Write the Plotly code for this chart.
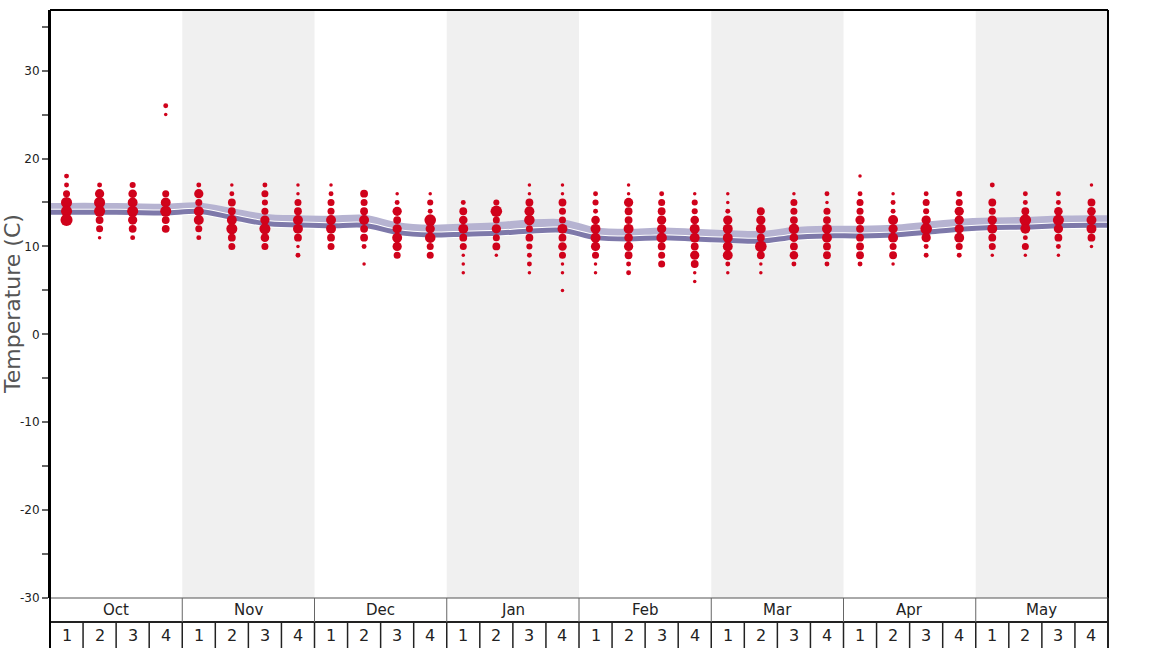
import math
import plotly.graph_objects as go

months = ["Oct", "Nov", "Dec", "Jan", "Feb", "Mar", "Apr", "May"]
week_labels = ["1", "2", "3", "4"]

# temperature (C) -> relative frequency, one dict per week
oct_weeks = [
    {18: 2, 17: 2, 16: 4, 15: 10, 14: 10, 13: 12},
    {17: 2, 16: 7, 15: 10, 14: 10, 13: 5, 12: 4, 11: 1},
    {17: 3, 16: 6, 15: 8, 14: 10, 13: 7, 12: 5, 11: 2},
    {26: 2, 25: 1, 16: 4, 15: 8, 14: 10, 13: 5, 12: 5},
]
nov_weeks = [
    {17: 2, 16: 7, 15: 4, 14: 8, 13: 8, 12: 4, 11: 2},
    {17: 1, 16: 2, 15: 5, 14: 5, 13: 8, 12: 10, 11: 5, 10: 4},
    {17: 2, 16: 4, 15: 3, 14: 4, 13: 7, 12: 10, 11: 6, 10: 4},
    {17: 1, 16: 1, 15: 4, 14: 5, 13: 8, 12: 8, 11: 5, 10: 1, 9: 2},
]
dec_weeks = [
    {17: 1, 16: 2, 15: 4, 14: 4, 13: 8, 12: 8, 11: 5, 10: 4},
    {16: 5, 15: 4, 14: 5, 13: 8, 12: 5, 11: 5, 10: 2, 8: 1},
    {16: 1, 15: 2, 14: 7, 13: 5, 12: 7, 11: 8, 10: 7, 9: 4},
    {16: 1, 15: 3, 14: 2, 13: 11, 12: 7, 11: 9, 10: 4, 9: 4},
]
jan_weeks = [
    {15: 2, 14: 5, 13: 6, 12: 8, 11: 5, 10: 4, 9: 1, 8: 1, 7: 1},
    {15: 3, 14: 11, 13: 4, 12: 7, 11: 4, 10: 5, 9: 1},
    {17: 1, 16: 1, 15: 5, 14: 8, 13: 9, 12: 4, 11: 5, 10: 3, 9: 2, 8: 2, 7: 1},
    {17: 1, 16: 1, 15: 5, 14: 4, 13: 4, 12: 8, 11: 5, 10: 6, 9: 4, 8: 1, 7: 1, 5: 1},
]
feb_weeks = [
    {16: 2, 15: 3, 14: 2, 13: 6, 12: 8, 11: 8, 10: 7, 9: 4, 8: 1, 7: 1},
    {17: 1, 16: 1, 15: 7, 14: 5, 13: 5, 12: 8, 11: 6, 10: 7, 9: 5, 8: 2, 7: 2},
    {16: 2, 15: 4, 14: 5, 13: 7, 12: 7, 11: 9, 10: 5, 9: 4, 8: 4},
    {16: 1, 15: 3, 14: 3, 13: 6, 12: 8, 11: 8, 10: 5, 9: 7, 8: 5, 7: 1, 6: 1},
]
mar_weeks = [
    {16: 1, 15: 1, 14: 2, 13: 7, 12: 8, 11: 8, 10: 8, 9: 8, 8: 2, 7: 1},
    {14: 5, 13: 7, 12: 8, 11: 5, 10: 11, 9: 5, 8: 1, 7: 1},
    {16: 1, 15: 4, 14: 4, 13: 5, 12: 9, 11: 6, 10: 5, 9: 6, 8: 2},
    {16: 2, 15: 1, 14: 4, 13: 5, 12: 8, 11: 8, 10: 5, 9: 5, 8: 2},
]
apr_weeks = [
    {18: 1, 16: 2, 15: 4, 14: 4, 13: 7, 12: 5, 11: 5, 10: 5, 9: 5, 8: 2},
    {16: 1, 15: 2, 14: 2, 13: 8, 12: 7, 11: 8, 10: 4, 9: 5, 8: 1},
    {16: 2, 15: 4, 14: 3, 13: 7, 12: 11, 11: 7, 10: 2, 9: 2},
    {16: 3, 15: 4, 14: 7, 13: 7, 12: 7, 11: 8, 10: 4, 9: 2},
]
may_weeks = [
    {17: 2, 15: 5, 14: 4, 13: 7, 12: 8, 11: 5, 10: 4, 9: 1},
    {16: 2, 15: 2, 14: 5, 13: 11, 12: 8, 11: 2, 10: 4, 9: 1},
    {16: 2, 15: 2, 14: 6, 13: 10, 12: 7, 11: 5, 10: 2, 9: 1},
    {17: 1, 15: 5, 14: 6, 13: 8, 12: 8, 11: 5, 10: 1},
]

# weekly lines
line_low = [13.9, 13.9, 13.85, 13.8, 14.0, 13.3, 12.6, 12.45,
            12.35, 12.4, 11.6, 11.3, 11.4, 11.5, 11.75, 11.85,
            11.0, 10.85, 11.0, 10.85, 10.7, 10.6, 11.05, 11.2,
            11.2, 11.3, 11.6, 11.95, 12.15, 12.2, 12.35, 12.4]
line_high = [14.5, 14.5, 14.45, 14.4, 14.55, 13.9, 13.25, 13.1,
             13.05, 13.15, 12.3, 12.0, 12.15, 12.3, 12.6, 12.65,
             11.7, 11.55, 11.7, 11.55, 11.4, 11.3, 11.75, 11.9,
             11.9, 12.0, 12.35, 12.7, 12.85, 12.9, 13.05, 13.1]

all_weeks = oct_weeks + nov_weeks + dec_weeks + jan_weeks + feb_weeks + mar_weeks + apr_weeks + may_weeks
n = len(all_weeks)
nm = len(months)

xs, ys, ss = [], [], []
for i, wk in enumerate(all_weeks):
    for t, c in wk.items():
        xs.append(i)
        ys.append(t)
        ss.append(3.5 * math.sqrt(c))

PLOT_H = 588.0

fig = go.Figure()

shapes = []
for m in range(nm):
    if m % 2 == 1:
        shapes.append(dict(type="rect", xref="paper", yref="paper", x0=m / nm, x1=(m + 1) / nm,
                           y0=0, y1=1, fillcolor="#f0f0f0", line=dict(width=0), layer="below"))

lx = [-0.5] + list(range(n)) + [n - 0.5]
hi = [line_high[0]] + line_high + [line_high[-1]]
lo = [line_low[0]] + line_low + [line_low[-1]]

fig.add_trace(go.Scatter(x=lx, y=hi, mode="lines", line=dict(color="#b6b3d1", width=8, shape="spline", smoothing=0.8),
                         hoverinfo="skip", showlegend=False))
fig.add_trace(go.Scatter(x=lx, y=lo, mode="lines", line=dict(color="#ffffff", width=7, shape="spline", smoothing=0.8),
                         hoverinfo="skip", showlegend=False))
fig.add_trace(go.Scatter(x=lx, y=lo, mode="lines", line=dict(color="#7e79aa", width=5, shape="spline", smoothing=0.8),
                         hoverinfo="skip", showlegend=False))
fig.add_trace(go.Scatter(x=xs, y=ys, mode="markers",
                         marker=dict(color="#d0021b", size=ss, sizemode="diameter", opacity=1, line=dict(width=0)),
                         showlegend=False))

# frame
shapes.append(dict(type="line", xref="paper", yref="paper", x0=0, x1=1, y0=1, y1=1, line=dict(color="black", width=2)))
shapes.append(dict(type="line", xref="paper", yref="paper", x0=1, x1=1, y0=0, y1=1, line=dict(color="black", width=2)))

row_h = 24 / PLOT_H
shapes.append(dict(type="line", xref="paper", yref="paper", x0=0, x1=1, y0=0, y1=0, line=dict(color="#555", width=1)))
shapes.append(dict(type="line", xref="paper", yref="paper", x0=0, x1=1, y0=-row_h, y1=-row_h, line=dict(color="#222", width=2)))
shapes.append(dict(type="line", xref="paper", yref="paper", x0=0, x1=0, y0=-0.12, y1=1, line=dict(color="black", width=2)))
shapes.append(dict(type="line", xref="paper", yref="paper", x0=1, x1=1, y0=-0.12, y1=0, line=dict(color="#222", width=2)))
annotations = []
for m in range(nm):
    if m > 0:
        shapes.append(dict(type="line", xref="paper", yref="paper", x0=m / nm, x1=m / nm, y0=-row_h, y1=0,
                           line=dict(color="#666", width=1)))
    annotations.append(dict(x=(m + 0.5) / nm, y=-row_h / 2, xref="paper", yref="paper", text=months[m],
                            showarrow=False, font=dict(size=15, color="#222", family="DejaVu Sans"),
                            xanchor="center", yanchor="middle"))
for i in range(n):
    if i > 0:
        shapes.append(dict(type="line", xref="paper", yref="paper", x0=i / n, x1=i / n, y0=-0.12, y1=-row_h,
                           line=dict(color="#222", width=1.5)))
    annotations.append(dict(x=(i + 0.5) / n, y=-row_h - 13.5 / PLOT_H, xref="paper", yref="paper",
                            text=week_labels[i % 4], showarrow=False,
                            font=dict(size=16, color="#222", family="DejaVu Sans"),
                            xanchor="center", yanchor="middle"))

annotations.append(dict(x=0, y=0.5, xref="paper", yref="paper", xshift=-38, text="Temperature (C)",
                        textangle=-90, showarrow=False, font=dict(size=22, color="#555", family="DejaVu Sans"),
                        xanchor="center", yanchor="middle"))

fig.update_layout(
    width=1168, height=648,
    margin=dict(l=50, r=60, t=10, b=50, autoexpand=False),
    plot_bgcolor="white", paper_bgcolor="white",
    shapes=shapes, annotations=annotations,
    font=dict(family="DejaVu Sans"),
    hovermode=False,
    xaxis=dict(range=[-0.5, n - 0.5], showticklabels=False, showgrid=False, zeroline=False,
               showline=False, ticks="", automargin=False),
    yaxis=dict(range=[-30, 36.9], tickmode="array", tickvals=[-30, -20, -10, 0, 10, 20, 30],
               ticktext=["-30", "-20", "-10", "0", "10", "20", "30"],
               ticks="outside", ticklen=6, tickcolor="#666", tickwidth=1.5,
               minor=dict(tickvals=[-25, -15, -5, 5, 15, 25, 35], ticks="outside", ticklen=6,
                          tickcolor="#666", tickwidth=1.5, showgrid=False),
               showgrid=False, zeroline=False, showline=True, linecolor="black", linewidth=2,
               tickfont=dict(size=12, color="#222"), automargin=False),
    showlegend=False,
)

fig.write_html("out.html", config={"displayModeBar": False},
               post_script="document.body.style.margin='0';document.body.style.overflow='hidden';")
